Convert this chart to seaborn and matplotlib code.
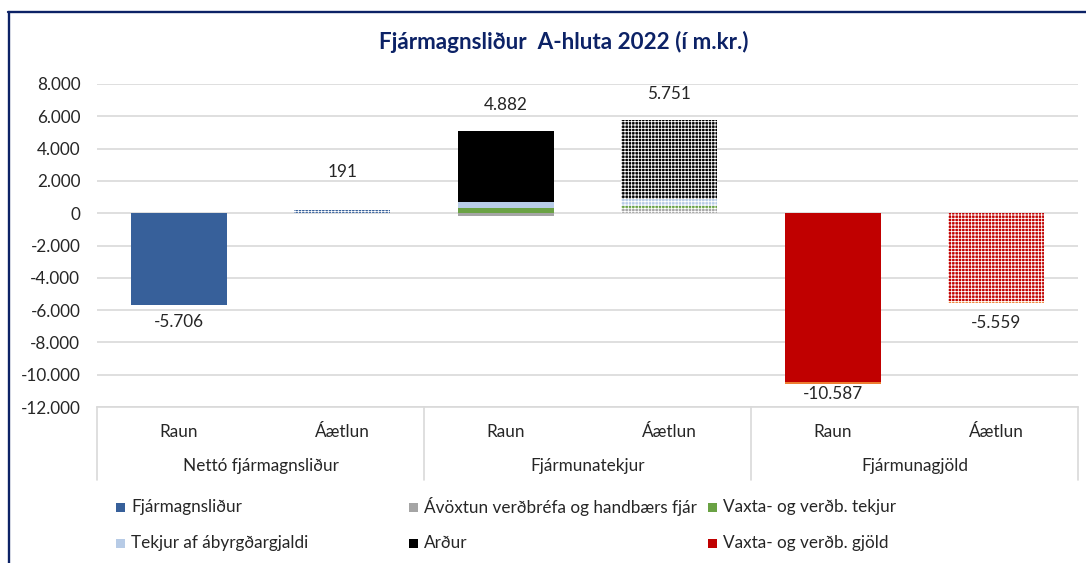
import numpy as np
import matplotlib
matplotlib.use("Agg")
import matplotlib.pyplot as plt
import matplotlib.transforms as mtransforms
from matplotlib.lines import Line2D
from matplotlib.patches import Rectangle
import seaborn as sns

# ---- data (m.kr.) ------------------------------------------------------
groups = ["Nettó fjármagnsliður", "Fjármunatekjur", "Fjármunagjöld"]
sub_labels = ["Raun", "Áætlun"]

# one value per bar slot: Raun/Áætlun for each of the three groups
fjarmagnslidur = [-5706, 191, 0, 0, 0, 0]
avoxtun = [0, 0, -200, 230, 0, 0]
vaxta_tekjur = [0, 0, 330, 200, 0, 0]
abyrgdargjald = [0, 0, 390, 480, 0, 0]
ardur = [0, 0, 4362, 4841, 0, 0]
vaxta_gjold = [0, 0, 0, 0, -10440, -5459]
onnur_gjold = [0, 0, 0, 0, -147, -100]

series_names = [
    "Fjármagnsliður",
    "Ávöxtun verðbréfa og handbærs fjár",
    "Vaxta- og verðb. tekjur",
    "Tekjur af ábyrgðargjaldi",
    "Arður",
    "Vaxta- og verðb. gjöld",
    "Önnur gjöld",
]
series_values = [fjarmagnslidur, avoxtun, vaxta_tekjur, abyrgdargjald,
                 ardur, vaxta_gjold, onnur_gjold]

y_ticks = [-12000, -10000, -8000, -6000, -4000, -2000, 0, 2000, 4000, 6000, 8000]

# ---- style ---------------------------------------------------------------
series_colors = ["#37609A", "#A5A5A5", "#6AA244", "#B7CBE6", "#000000",
                 "#C00000", "#ED7D31"]
legend_entries = 6           # the last series has no legend entry
navy = "#0C2266"
grid_col = "#D9D9D9"
text_col = "#262626"

sns.set_theme(style="white")
plt.rcParams["font.family"] = ["Lato", "DejaVu Sans"]
plt.rcParams["hatch.linewidth"] = 0.6

W, H, DPI = 1086, 563, 100
fig = plt.figure(figsize=(W / DPI, H / DPI), dpi=DPI)
fig.patch.set_facecolor("white")


def fx(px):
    return px / W


def fy(py):
    return 1 - py / H


ax = fig.add_axes([fx(97), fy(407), fx(1078) - fx(97), fy(84) - fy(407)])

n_slots = len(fjarmagnslidur)
slots = np.arange(n_slots)
pos_base = np.zeros(n_slots)
neg_base = np.zeros(n_slots)
plan_slots = [1, 3, 5]

for name, vals, col in zip(series_names, series_values, series_colors):
    vals = np.asarray(vals, dtype=float)
    bottom = np.where(vals >= 0, pos_base, neg_base)
    n_before = len(ax.patches)
    sns.barplot(x=slots, y=vals, bottom=bottom, color=col, width=0.59,
                errorbar=None, linewidth=0, saturation=1, ax=ax)
    new = ax.patches[n_before:]
    # plan bars get a fine checkered pattern fill
    for i in plan_slots:
        p = new[i]
        p.set_hatch("+++++")
        p.set_edgecolor("white")
        p.set_linewidth(0)
    pos_base = pos_base + np.where(vals > 0, vals, 0)
    neg_base = neg_base + np.where(vals < 0, vals, 0)

totals = np.sum(np.asarray(series_values, dtype=float), axis=0)

# value labels on totals
label_gap_px = [17, 38, 26, 26, 10, 20]
for i in slots:
    tot = int(round(totals[i]))
    txt = f"{tot:,}".replace(",", ".")
    if tot >= 0:
        anchor, dy = pos_base[i], label_gap_px[i]
    else:
        anchor, dy = neg_base[i], -label_gap_px[i]
    ax.annotate(txt, (i, anchor), xytext=(0, dy), textcoords="offset pixels",
                ha="center", va="center", fontsize=12.3, color=text_col)

# axes
ax.set_xlim(-0.5, n_slots - 0.5)
ax.set_ylim(y_ticks[0], y_ticks[-1])
ax.set_yticks(y_ticks)
ax.set_yticklabels([f"{t:,}".replace(",", ".") for t in y_ticks],
                   fontsize=12.3, color=text_col)
ax.tick_params(axis="y", length=0, pad=12)
ax.set_xticks([])
ax.set_xlabel("")
ax.set_ylabel("")
ax.yaxis.grid(True, color=grid_col, linewidth=1.2)
ax.set_axisbelow(True)
for side in ["left", "right", "top"]:
    ax.spines[side].set_visible(False)
ax.spines["bottom"].set_color(grid_col)
ax.spines["bottom"].set_linewidth(1.2)

# multi-level category axis
trans = mtransforms.blended_transform_factory(ax.transData, fig.transFigure)
for g, gname in enumerate(groups):
    for k, s in enumerate(sub_labels):
        ax.text(2 * g + k, fy(432), s, transform=trans, ha="center",
                va="center", fontsize=12.3, color=text_col)
    ax.text(2 * g + 0.5, fy(466), gname, transform=trans, ha="center",
            va="center", fontsize=12.3, color=text_col)
for xb in np.arange(-0.5, n_slots, 2):
    ax.add_line(Line2D([xb, xb], [fy(407), fy(480)], transform=trans,
                       color=grid_col, linewidth=1.2, clip_on=False))

# title
fig.text(fx(564), fy(42), "Fjármagnsliður  A-hluta 2022 (í m.kr.)",
         ha="center", va="center", fontsize=16.2, fontweight="bold", color=navy)

# legend
col_x = [116, 409, 708]
row_y = [507, 543]
for j in range(legend_entries):
    r, c = divmod(j, 3)
    x0, yc = col_x[c], row_y[r]
    fig.patches.append(Rectangle((fx(x0), fy(yc + 4.5)), fx(9), 9 / H,
                                 transform=fig.transFigure,
                                 facecolor=series_colors[j], edgecolor="none"))
    fig.text(fx(x0 + 15), fy(yc), series_names[j], ha="left", va="center",
             fontsize=12.3, color=text_col)

# frame
fig.add_artist(Line2D([fx(8), 1], [fy(12), fy(12)], color=navy,
                      linewidth=1.7, transform=fig.transFigure))
fig.add_artist(Line2D([fx(9), fx(9)], [fy(12), 0], color=navy,
                      linewidth=1.7, transform=fig.transFigure))

fig.savefig("out.png", dpi=DPI)
